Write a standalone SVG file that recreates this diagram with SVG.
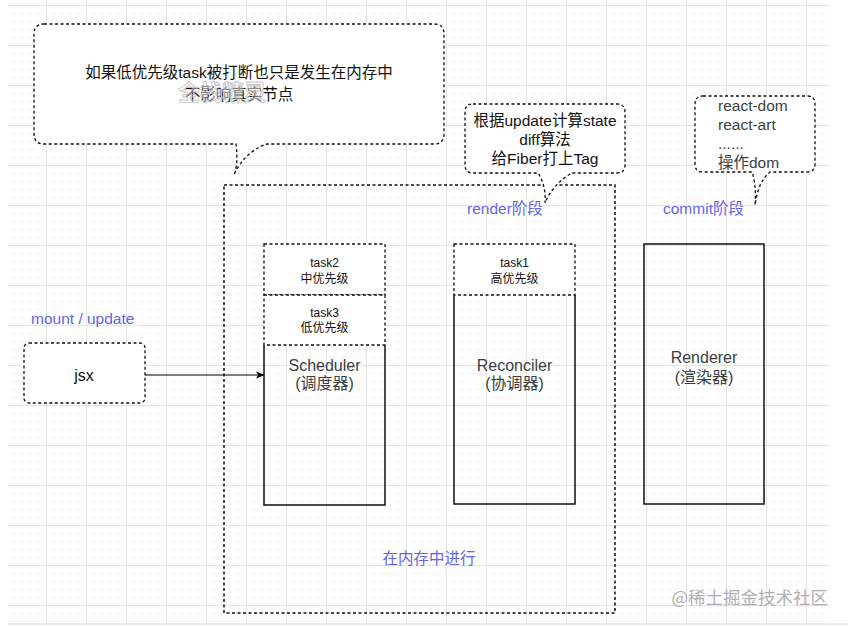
<svg xmlns="http://www.w3.org/2000/svg" width="848" height="627" viewBox="0 0 848 627">
<defs>
  <pattern id="minor" x="6" y="5" width="8" height="8" patternUnits="userSpaceOnUse">
    <path d="M0,0.5 H8 M0.5,0 V8" fill="none" stroke="#f8f8f8" stroke-width="1"/>
  </pattern>
  <pattern id="major" x="6" y="5" width="40" height="40" patternUnits="userSpaceOnUse">
    <path d="M0,0.5 H40 M0.5,0 V40" fill="none" stroke="#e4e4e4" stroke-width="1"/>
  </pattern>
  <marker id="arrow" viewBox="0 0 10 10" refX="9" refY="5" markerWidth="9" markerHeight="9" markerUnits="userSpaceOnUse" orient="auto">
    <path d="M0,1 L10,5 L0,9 L2.5,5 Z" fill="#000"/>
  </marker>
</defs>
<style>
  .dash { fill: #fff; stroke: #111; stroke-width: 1.3; stroke-dasharray: 3 2.5; }
  .dashn { fill: none; stroke: #111; stroke-width: 1.5; stroke-dasharray: 3 2.5; }
  .solid { fill: none; stroke: #111; stroke-width: 1.5; }
  .t { font-family: "Liberation Sans", "Noto Sans CJK SC", sans-serif; fill: #111; }
  .g { font-family: "Liberation Sans", "Noto Sans CJK SC", sans-serif; fill: #3a3f45; }
  .p { font-family: "Liberation Sans", "Noto Sans CJK SC", sans-serif; fill: #6565e6; font-size: 15.5px; }
  .c { text-anchor: middle; }
</style>
<rect x="0" y="0" width="848" height="627" fill="#fff"/>
<rect x="8" y="0" width="822" height="624" fill="url(#minor)"/>
<rect x="8" y="0" width="822" height="624" fill="url(#major)"/>
<line x1="8" y1="624" x2="848" y2="624" stroke="#d8d8d8" stroke-width="1"/>

<g id="container">
  <rect x="224" y="185" width="391" height="428" class="dashn"/>
  <text x="429" y="564" class="p c">在内存中进行</text>
</g>

<g id="note-interrupt">
  <path class="dash" d="M44,24 H434 Q444,24 444,34 V134 Q444,144 434,144 H267 C255,147 240,160 234,175 C238,165 237,152 236,144 H44 Q34,144 34,134 V34 Q34,24 44,24 Z"/>
  <text x="239" y="78" class="t c" font-size="15.5">如果低优先级task被打断也只是发生在内存中</text>
  <text x="239" y="100" class="t c" font-size="15.5">不影响真实节点</text>
  <text x="222" y="100" class="c" font-family="'Noto Sans CJK SC', sans-serif" font-size="22" font-weight="bold" fill="#fff" fill-opacity="0.35" stroke="#b8b8b8" stroke-width="0.9" stroke-opacity="0.8">全栈精灵</text>
</g>

<g id="note-render">
  <path class="dash" d="M473,104 H617 Q625,104 625,112 V165 Q625,173 617,173 H572 C562,178 550,190 545,203 C546,192 543,180 538,173 H473 Q465,173 465,165 V112 Q465,104 473,104 Z"/>
  <text x="545" y="126" class="t c" font-size="15.5">根据update计算state</text>
  <text x="545" y="145" class="t c" font-size="15.5">diff算法</text>
  <text x="545" y="164" class="t c" font-size="15.5">给Fiber打上Tag</text>
  <text x="467" y="214" class="p">render阶段</text>
</g>

<g id="note-commit">
  <path class="dash" d="M703,96 H807 Q815,96 815,104 V164 Q815,172 807,172 H770 C762,178 757,190 755,205 C756,193 755,180 752,172 H703 Q695,172 695,164 V104 Q695,96 703,96 Z"/>
  <text x="718" y="111" class="g" font-size="15.5">react-dom</text>
  <text x="718" y="130" class="g" font-size="15.5">react-art</text>
  <text x="718" y="149" class="g" font-size="15.5">......</text>
  <text x="718" y="168" class="g" font-size="15.5">操作dom</text>
  <text x="663" y="214" class="p">commit阶段</text>
</g>

<g id="jsx">
  <text x="31" y="324" class="p">mount / update</text>
  <rect x="24" y="343" width="121" height="60" rx="5" class="dash"/>
  <text x="84" y="381" class="t c" font-size="16">jsx</text>
</g>

<g id="scheduler">
  <path class="solid" d="M264,345 V505 H385 V345"/>
  <rect x="264" y="244" width="121" height="51" class="dash"/>
  <rect x="264" y="295" width="121" height="50" class="dash"/>
  <text x="324.5" y="267" class="t c" font-size="12">task2</text>
  <text x="324.5" y="282.5" class="t c" font-size="12">中优先级</text>
  <text x="324.5" y="316.5" class="t c" font-size="12">task3</text>
  <text x="324.5" y="332" class="t c" font-size="12">低优先级</text>
  <text x="324.5" y="371" class="g c" font-size="16">Scheduler</text>
  <text x="324.5" y="389" class="g c" font-size="16">(调度器)</text>
</g>

<g id="reconciler">
  <path class="solid" d="M454,295 V504 H575 V295"/>
  <rect x="454" y="244" width="121" height="51" class="dash"/>
  <text x="514.5" y="267" class="t c" font-size="12">task1</text>
  <text x="514.5" y="282.5" class="t c" font-size="12">高优先级</text>
  <text x="514.5" y="371" class="g c" font-size="16">Reconciler</text>
  <text x="514.5" y="389" class="g c" font-size="16">(协调器)</text>
</g>

<g id="renderer">
  <rect x="644" y="244" width="120" height="260" class="solid"/>
  <text x="704" y="363" class="g c" font-size="16">Renderer</text>
  <text x="704" y="383" class="g c" font-size="16">(渲染器)</text>
</g>

<g id="connectors">
  <line x1="145" y1="375" x2="264" y2="375" stroke="#000" stroke-width="1.2" marker-end="url(#arrow)"/>
</g>

<text x="828" y="604" text-anchor="end" font-family="'Noto Sans CJK SC', sans-serif" font-size="17.5" fill="#b0b0b0">@稀土掘金技术社区</text>
</svg>
